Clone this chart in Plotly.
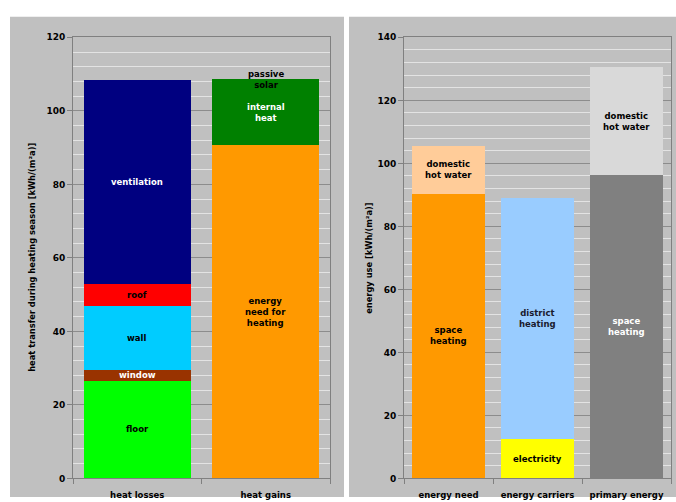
import plotly.graph_objects as go

# left chart: heat balance over heating season, kWh/(m2a)
balance_cats = ["heat losses", "heat gains"]
loss_names = ["floor", "window", "wall", "roof", "ventilation"]
loss_values = [26.6, 3.0, 17.2, 6.0, 55.7]
loss_colors = ["#00FF00", "#993300", "#00CCFF", "#FF0000", "#000080"]
loss_text = ["black", "white", "black", "black", "white"]

gain_names = ["energy<br>need for<br>heating", "internal<br>heat", "passive<br>solar"]
gain_values = [90.7, 17.6, 0.2]
gain_colors = ["#FF9900", "#008000", "#008000"]
gain_text = ["black", "white", "black"]

# right chart: energy use, kWh/(m2a)
use_cats = ["energy need", "energy carriers", "primary energy"]
use_names = [["space<br>heating", "domestic<br>hot water"],
             ["electricity", "district<br>heating"],
             ["space<br>heating", "domestic<br>hot water"]]
use_values = [[90.4, 15.1], [12.5, 76.4], [96.2, 34.4]]
use_colors = [["#FF9900", "#FFCC99"], ["#FFFF00", "#99CCFF"], ["#808080", "#D9D9D9"]]
use_text = [["black", "black"], ["black", "#1a1a2e"], ["white", "black"]]

FONT = "DejaVu Sans"
fig = go.Figure()
annos = []


def add_stack(cat, names, values, colors, tcolors, xa, ya):
    base = 0
    for n, v, c, tc in zip(names, values, colors, tcolors):
        fig.add_trace(go.Bar(x=[cat], y=[v], marker=dict(color=c, line=dict(width=0)),
                             xaxis=xa, yaxis=ya, showlegend=False, hoverinfo="y+name",
                             name=n.replace("<br>", " ")))
        annos.append(dict(x=cat, y=base + v / 2, xref=xa, yref=ya,
                          text="<b>" + n + "</b>", showarrow=False,
                          font=dict(family=FONT, size=8.5, color=tc)))
        base += v


add_stack(balance_cats[0], loss_names, loss_values, loss_colors, loss_text, "x", "y")
add_stack(balance_cats[1], gain_names, gain_values, gain_colors, gain_text, "x", "y")
for i, cat in enumerate(use_cats):
    add_stack(cat, use_names[i], use_values[i], use_colors[i], use_text[i], "x2", "y2")

W, H = 676, 502
ydom = [(H - 483) / H, (H - 33) / H]

axis_common = dict(showline=True, linecolor="#808080", mirror=True, linewidth=1,
                   tickfont=dict(family=FONT, size=9, color="black", weight="bold"))
yax_common = dict(axis_common, showgrid=True, gridcolor="#8c8c8c", gridwidth=1,
                  dtick=20, ticks="outside", ticklen=5, tickcolor="#808080", zeroline=False,
                  minor=dict(dtick=4, showgrid=True, gridcolor="#E3E3E3", gridwidth=1))
xax_common = dict(axis_common, type="category", ticks="outside", tickson="boundaries",
                  ticklen=5, tickcolor="#808080", showgrid=False, tickangle=0,
                  ticklabelstandoff=8)
xax_common["tickfont"] = dict(family=FONT, size=8.5, color="black", weight="bold")

annos.append(dict(x=25 / W, y=(H - 258) / H, xref="paper", yref="paper", textangle=-90,
                  text="<b>heat transfer during heating season [kWh/(m²a)]</b>",
                  showarrow=False, font=dict(family=FONT, size=8.3, color="black")))
annos.append(dict(x=369 / W, y=(H - 258) / H, xref="paper", yref="paper", textangle=-90,
                  text="<b>energy use [kWh/(m²a)]</b>",
                  showarrow=False, font=dict(family=FONT, size=8.3, color="black")))

fig.update_layout(
    width=W, height=H,
    margin=dict(l=0, r=0, t=0, b=0),
    paper_bgcolor="white", plot_bgcolor="white",
    barmode="stack",
    xaxis=dict(xax_common, domain=[73 / W, 330 / W]),
    yaxis=dict(yax_common, domain=ydom, range=[0, 120], anchor="x"),
    xaxis2=dict(xax_common, domain=[404 / W, 671 / W], anchor="y2"),
    yaxis2=dict(yax_common, domain=ydom, range=[0, 140], anchor="x2"),
    bargap=0.17,
    annotations=annos,
    shapes=[
        dict(type="rect", xref="paper", yref="paper", x0=10 / W, x1=344 / W,
             y0=0, y1=(H - 12) / H, fillcolor="#C0C0C0", line=dict(width=0), layer="below"),
        dict(type="rect", xref="paper", yref="paper", x0=349 / W, x1=1,
             y0=0, y1=(H - 12) / H, fillcolor="#C0C0C0", line=dict(width=0), layer="below"),
    ],
)

fig.write_html("out.html", config={"responsive": False, "displayModeBar": False},
               post_script="document.body.style.margin='0';document.body.style.overflow='hidden';")
